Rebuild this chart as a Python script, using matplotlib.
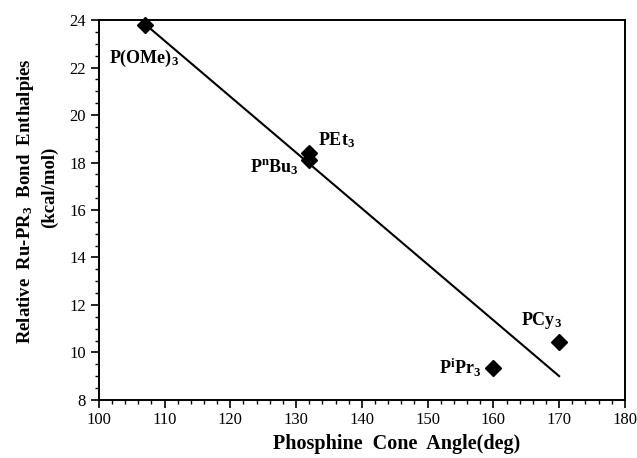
import numpy as np
import matplotlib
matplotlib.use("Agg")
from matplotlib import pyplot as plt
from matplotlib.ticker import MultipleLocator

# Data
ligands = ["P(OMe)$_3$", "PEt$_3$", "P$^n$Bu$_3$", "P$^i$Pr$_3$", "PCy$_3$"]
cone_angle = [107, 132, 132, 160, 170]
enthalpy = [23.8, 18.4, 18.1, 9.35, 10.45]
# label anchor (x, y) in data units, left aligned
label_x = [101.6, 133.3, 123.0, 151.8, 164.2]
label_y = [22.4, 18.95, 17.8, 9.35, 11.35]

plt.rcParams['font.family'] = ['Liberation Serif', 'DejaVu Serif']
plt.rcParams['mathtext.fontset'] = 'custom'
plt.rcParams['mathtext.rm'] = 'Liberation Serif:bold'
plt.rcParams['mathtext.it'] = 'Liberation Serif:bold'
plt.rcParams['mathtext.bf'] = 'Liberation Serif:bold'

fig = plt.figure(figsize=(6.37, 4.58), dpi=100)
ax = fig.add_axes([0.155, 0.127, 0.826, 0.829])

# least squares line through the points
coef = np.polyfit(cone_angle, enthalpy, 1)
xs = np.array([min(cone_angle), max(cone_angle)])
ax.plot(xs, np.polyval(coef, xs), color='black', lw=1.5)

ax.plot(cone_angle, enthalpy, 'D', color='black', ms=8, clip_on=False)

for name, lx, ly in zip(ligands, label_x, label_y):
    ax.text(lx, ly, name, fontsize=13, fontweight='bold', va='center', ha='left')

ax.set_xlim(100, 180)
ax.set_ylim(8, 24)
ax.xaxis.set_major_locator(MultipleLocator(10))
ax.xaxis.set_minor_locator(MultipleLocator(2))
ax.yaxis.set_major_locator(MultipleLocator(2))
ax.yaxis.set_minor_locator(MultipleLocator(0.5))
ax.tick_params(which='major', direction='out', length=6, width=1.2, labelsize=12, pad=3)
ax.tick_params(which='minor', direction='out', length=3, width=1.0)
for s in ax.spines.values():
    s.set_linewidth(1.4)

fig.text(397 / 637, 1 - 444 / 458, "Phosphine  Cone  Angle(deg)",
         fontsize=14.5, fontweight='bold', ha='center', va='center')
fig.text(26 / 637, 1 - 201 / 458, "Relative  Ru-PR$_3$  Bond  Enthalpies", rotation=90,
         fontsize=13.5, fontweight='bold', ha='center', va='center')
fig.text(49 / 637, 1 - 187 / 458, "(kcal/mol)", rotation=90,
         fontsize=13.5, fontweight='bold', ha='center', va='center')

fig.savefig("out.png", dpi=100)
